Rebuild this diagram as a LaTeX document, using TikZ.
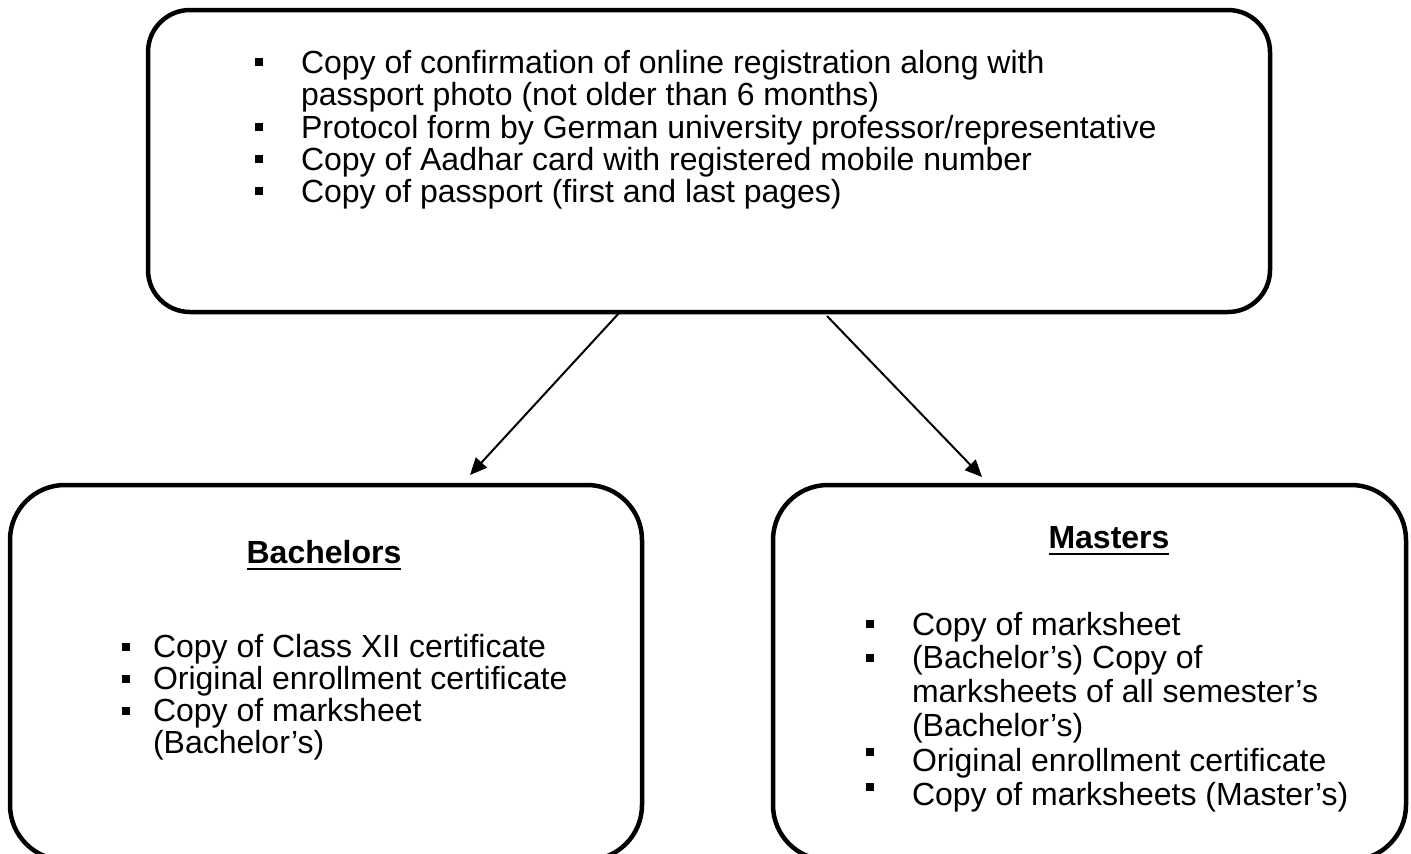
\documentclass[tikz,border=0pt]{standalone}
\usepackage{fontspec}
\setmainfont{Liberation Sans}
\usetikzlibrary{arrows.meta,calc}
\begin{document}
\begin{tikzpicture}[x=1pt,y=1pt,
  box/.style={draw=black,line width=4.5pt,inner sep=0pt,outer sep=0pt},
  txt/.style={anchor=base west,inner sep=0pt,outer sep=0pt,font=\fontsize{32}{32}\selectfont},
  head/.style={anchor=base,inner sep=0pt,outer sep=0pt,font=\fontsize{32}{32}\selectfont\bfseries},
  uline/.style={line width=2.5pt},
  bul/.style={fill=black,inner sep=0pt,outer sep=0pt,minimum size=8pt,rectangle},
  conn/.style={line width=2pt,-{Triangle[length=17pt,width=15pt]}}]
\useasboundingbox (0,0) rectangle (1411,-854);
\clip (0,0) rectangle (1411,-854);
\fill[white] (0,0) rectangle (1411,-854);
% boxes
\node[box,rounded corners=42pt,minimum width=1122pt,minimum height=302pt] (top) at (709,-161) {};
\node[box,rounded corners=55pt,minimum width=632pt,minimum height=375pt] (bach) at (326,-672.5) {};
\node[box,rounded corners=55pt,minimum width=633pt,minimum height=375pt] (mast) at (1089.5,-672.5) {};
% top text
\node[txt] (t1) at (301,-73) {Copy of confirmation of online registration along with};
\node[txt] (t2) at (301,-105) {passport photo (not older than 6 months)};
\node[txt] (t3) at (301,-138) {Protocol form by German university professor/representative};
\node[txt] (t4) at (301,-170) {Copy of Aadhar card with registered mobile number};
\node[txt] (t5) at (301,-202) {Copy of passport (first and last pages)};
\node[bul] (tb1) at (259,-62) {};
\node[bul] (tb3) at (259,-127) {};
\node[bul] (tb4) at (259,-159) {};
\node[bul] (tb5) at (259,-191) {};
% bachelors
\node[head] (bh) at (324,-563) {Bachelors};
\draw[uline] ([yshift=-6pt]bh.base west) -- ([yshift=-6pt]bh.base east);
\node[txt] (b1) at (153,-657) {Copy of Class XII certificate};
\node[txt] (b2) at (153,-689) {Original enrollment certificate};
\node[txt] (b3) at (153,-721) {Copy of marksheet};
\node[txt] (b4) at (153,-753) {(Bachelor’s)};
\node[bul] (bb1) at (126,-647) {};
\node[bul] (bb2) at (126,-679) {};
\node[bul] (bb3) at (126,-711) {};
% masters
\node[head] (mh) at (1109,-548) {Masters};
\draw[uline] ([yshift=-6pt]mh.base west) -- ([yshift=-6pt]mh.base east);
\node[txt] (m1) at (912,-635) {Copy of marksheet};
\node[txt] (m2) at (912,-668) {(Bachelor’s) Copy of};
\node[txt] (m3) at (912,-702) {marksheets of all semester’s};
\node[txt] (m4) at (912,-736) {(Bachelor’s)};
\node[txt] (m5) at (912,-771) {Original enrollment certificate};
\node[txt] (m6) at (912,-805) {Copy of marksheets (Master’s)};
\node[bul] (mb1) at (870,-624) {};
\node[bul] (mb2) at (870,-658) {};
\node[bul] (mb3) at (870,-752) {};
\node[bul] (mb4) at (870,-787) {};
% connectors
\coordinate (s1) at ($(top.south west)+(472,0)$);
\coordinate (e1) at ($(bach.north west)+(460,10)$);
\coordinate (s2) at ($(top.south west)+(679,-4)$);
\coordinate (e2) at ($(mast.north west)+(209,8)$);
\draw[conn] (s1) -- (e1);
\draw[conn] (s2) -- (e2);
\end{tikzpicture}
\end{document}
